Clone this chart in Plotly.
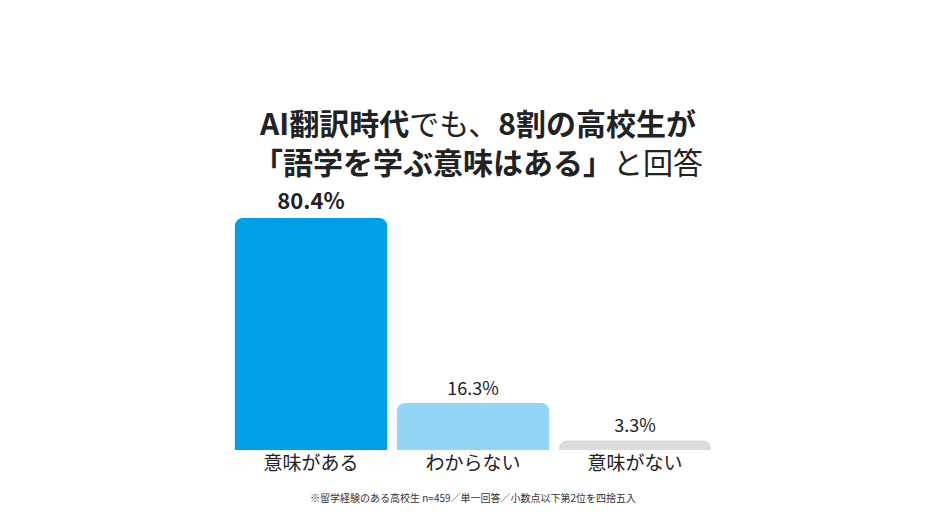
import plotly.graph_objects as go

categories = ["意味がある", "わからない", "意味がない"]
values = [80.4, 16.3, 3.3]
labels = ["<b>80.4%</b>", "16.3%", "3.3%"]
colors = ["#00A0E9", "#92D5F4", "#DCDCDC"]

fig = go.Figure(go.Bar(
    x=categories, y=values, marker_color=colors, marker_line_width=0,
    text=labels, textposition="outside", cliponaxis=False,
    textfont=dict(size=[22, 18, 18], color="#222222"),
))
fig.update_layout(
    width=940, height=529,
    font_family="Noto Sans CJK JP",
    paper_bgcolor="white", plot_bgcolor="white",
    margin=dict(l=222, r=232, t=190, b=87),
    bargap=0.06, barcornerradius=8, showlegend=False,
    title=dict(
        text="<b>AI翻訳時代</b>でも、<b>8割の高校生が</b><br><b>「語学を学ぶ意味はある」</b>と回答",
        x=0.5, xanchor="center", y=0.76, yanchor="middle",
        font=dict(size=30, color="#222222"),
    ),
)
fig.update_xaxes(showline=False, ticks="", tickfont=dict(size=19, color="#222222"))
fig.update_yaxes(visible=False, range=[0, 87.3])
fig.add_annotation(text="※留学経験のある高校生 n=459／単一回答／小数点以下第2位を四捨五入",
                   xref="paper", yref="paper", x=0.5, y=-0.15, yanchor="top",
                   showarrow=False, font=dict(size=10, color="#333333"))
fig.write_html("out.html")
